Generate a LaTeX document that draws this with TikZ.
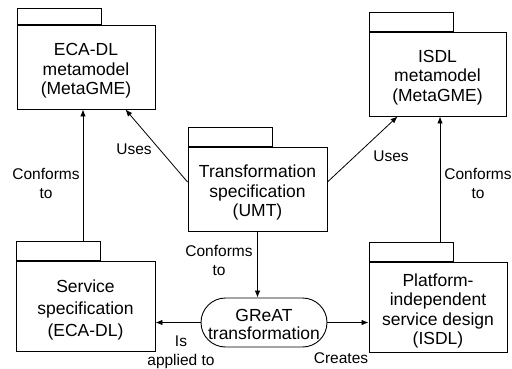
\documentclass[tikz,border=0pt]{standalone}
\usepackage{fontspec}
\setmainfont{Liberation Sans}
\usetikzlibrary{arrows.meta,shapes.misc}
\begin{document}
\begin{tikzpicture}[x=1pt,y=-1pt,
  pkg/.style={draw, line width=0.9pt, fill=white, inner sep=0pt},
  pkgtext/.style={align=center, inner sep=0pt,
    font=\fontsize{17.5}{19.5}\selectfont},
  pkgtab/.style={draw, line width=0.9pt, minimum width=84pt,
    minimum height=19pt, inner sep=0pt, anchor=south west},
  proc/.style={draw, line width=0.9pt, rounded rectangle, inner sep=0pt,
    minimum width=126pt, minimum height=49pt},
  lbl/.style={align=center, font=\fontsize{15.5}{19}\selectfont, inner sep=0pt},
  arr/.style={line width=0.8pt, -{Latex[length=7pt,width=5.5pt]}}
]
\useasboundingbox (0,0) rectangle (512,369);

% packages: body with a tab on its upper left corner, text slightly low
\node[pkg, minimum width=138pt, minimum height=84pt] (eca) at (86,67) {};
\node[pkgtab, minimum height=16pt] (ecatab) at (eca.north west) {};
\node[pkgtext] (ecatext) at (86,71) {ECA-DL\\metamodel\\(MetaGME)};

\node[pkg, minimum width=137pt, minimum height=84pt] (isdl) at (437.5,74) {};
\node[pkgtab] (isdltab) at (isdl.north west) {};
\node[pkgtext] (isdltext) at (437.5,77.5) {ISDL\\metamodel\\(MetaGME)};

\node[pkg, minimum width=139pt, minimum height=84pt] (trf) at (257.5,189) {};
\node[pkgtab] (trftab) at (trf.north west) {};
\node[pkgtext] (trftext) at (257.5,192.5) {Transformation\\specification\\(UMT)};

\node[pkg, minimum width=139pt, minimum height=90pt] (svc) at (85.5,306) {};
\node[pkgtab] (svctab) at (svc.north west) {};
\node[pkgtext, font=\fontsize{17.5}{22}\selectfont] (svctext) at (85.5,309.5)
  {Service\\specification\\(ECA-DL)};

\node[pkg, minimum width=138pt, minimum height=90pt] (pisd) at (438,307) {};
\node[pkgtab] (pisdtab) at (pisd.north west) {};
\node[pkgtext] (pisdtext) at (438,311)
  {Platform-\\independent\\service design\\(ISDL)};

% transformation process
\node[proc] (great) at (264,322.5) {};
\node[pkgtext, font=\fontsize{17.5}{18}\selectfont] (greattext) at (264,324.5)
  {GReAT\\transformation};

% connectors
\draw[arr] ([xshift=-3pt]svctab.north -| eca.south) -- ([xshift=-3pt]eca.south);
\draw[arr] ([yshift=7pt]trf.west) -- ([xshift=-30pt]eca.south east);
\draw[arr] ([yshift=7pt]trf.east) -- ([xshift=29pt]isdl.south west);
\draw[arr] ([xshift=2.5pt]pisdtab.north -| isdl.south) -- ([xshift=2.5pt]isdl.south);
\draw[arr] (trf.south) -- (trf.south |- great.north);
\draw[arr] (great.west) -- (great.west -| svc.east);
\draw[arr] (great.east) -- (great.east -| pisd.west);

% connector labels
\node[lbl] (l1) at (46,183.5) {Conforms\\to};
\node[lbl] (l2) at (134,149) {Uses};
\node[lbl] (l3) at (391,156) {Uses};
\node[lbl] (l4) at (478,183) {Conforms\\to};
\node[lbl] (l5) at (219,260.5) {Conforms\\to};
\node[lbl] (l6) at (181,352) {Is\\applied to};
\node[lbl] (l7) at (341,358.5) {Creates};
\end{tikzpicture}
\end{document}
